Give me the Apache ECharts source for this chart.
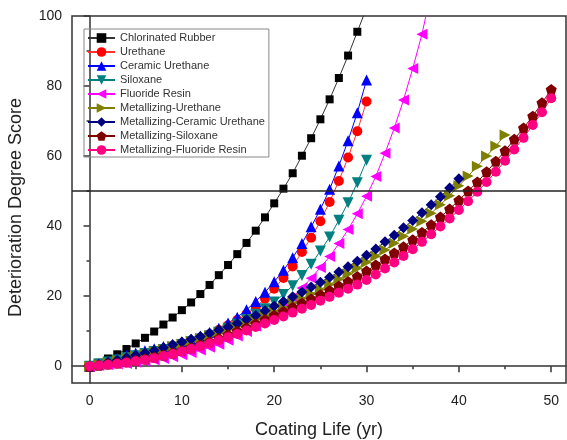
<!DOCTYPE html>
<html>
<head>
<meta charset="utf-8">
<script src="https://cdn.jsdelivr.net/npm/echarts@6/dist/echarts.min.js"></script>
<style>
  html, body { margin: 0; padding: 0; background: #fff; }
  #chart { width: 567px; height: 440px; }
</style>
</head>
<body>
<div id="chart"></div>
<script>
// values, one per year starting at year 0
var chlorinatedRubber = [0, 1.0, 2.2, 3.4, 4.9, 6.5, 8.1, 9.9, 11.9, 13.9, 16.0, 18.2, 20.6, 23.2, 26.0, 28.9, 32.0, 35.2, 38.7, 42.5, 46.5, 50.7, 55.1, 60.1, 65.1, 70.5, 76.2, 82.3, 88.7, 95.5, 102.3];
var urethane = [0, 0.6, 1.3, 1.9, 2.6, 3.2, 3.8, 4.4, 5.0, 5.7, 6.4, 7.2, 8.1, 9.1, 10.3, 11.7, 13.2, 14.9, 16.9, 19.3, 22.1, 25.2, 28.5, 32.6, 36.7, 41.4, 46.9, 52.9, 59.6, 67.1, 75.6];
var ceramicUrethane = [0, 0.7, 1.5, 2.3, 3.1, 3.8, 4.4, 5.0, 5.6, 6.2, 6.9, 7.7, 8.6, 9.6, 10.8, 12.3, 14.0, 16.1, 18.5, 21.1, 24.1, 27.4, 31.0, 35.0, 39.8, 44.8, 50.5, 57.2, 64.4, 72.4, 81.7];
var siloxane = [0, 0.6, 1.2, 1.8, 2.4, 3.0, 3.6, 4.2, 4.8, 5.5, 6.2, 7.0, 7.8, 8.7, 9.7, 10.8, 12.0, 13.3, 14.8, 16.4, 18.3, 20.5, 23.0, 25.9, 29.1, 32.9, 36.9, 41.7, 46.7, 52.4, 58.8];
var fluorideResin = [0, 0.2, 0.4, 0.6, 0.8, 1.1, 1.4, 1.8, 2.2, 2.7, 3.3, 3.9, 4.6, 5.4, 6.3, 7.4, 8.6, 9.9, 11.4, 13.1, 15.0, 17.2, 19.6, 22.3, 25.1, 28.2, 31.3, 35.0, 39.0, 43.5, 48.5, 54.2, 60.8, 68.0, 76.0, 85.0, 94.8, 107];
var metUrethane = [0, 0.5, 1.0, 1.6, 2.2, 2.8, 3.4, 4.1, 4.8, 5.6, 6.3, 7.1, 7.9, 8.7, 9.6, 10.5, 11.4, 12.4, 13.4, 14.5, 15.6, 16.8, 18.0, 19.3, 20.6, 21.9, 23.3, 24.8, 26.4, 28.0, 29.7, 31.4, 33.2, 35.1, 37.1, 39.2, 41.4, 43.7, 46.1, 48.7, 51.5, 54.3, 57.1, 60.0, 62.9, 66.0];
var metCeramicUrethane = [0, 0.5, 1.1, 1.7, 2.4, 3.1, 3.8, 4.5, 5.3, 6.1, 6.9, 7.7, 8.5, 9.4, 10.3, 11.2, 12.2, 13.3, 14.5, 15.8, 17.2, 18.5, 19.8, 21.2, 22.6, 24.0, 25.4, 26.9, 28.4, 30.0, 31.7, 33.5, 35.5, 37.4, 39.5, 41.6, 43.8, 46.1, 48.4, 50.9, 53.5];
var metSiloxane = [0, 0.3, 0.6, 0.9, 1.3, 1.7, 2.1, 2.6, 3.2, 3.8, 4.5, 5.3, 6.1, 7.0, 8.0, 9.0, 10.0, 11.0, 12.1, 13.3, 14.5, 15.6, 16.8, 18.0, 19.2, 20.4, 21.6, 22.9, 24.2, 25.6, 27.2, 28.9, 30.6, 32.3, 34.1, 36.1, 38.2, 40.4, 42.6, 44.9, 47.4, 50.0, 52.6, 55.5, 58.5, 61.5, 64.8, 68.0, 71.4, 75.2, 79.0];
var metFluorideResin = [0, 0.2, 0.4, 0.7, 1.0, 1.4, 1.8, 2.3, 2.9, 3.5, 4.2, 4.9, 5.7, 6.5, 7.4, 8.3, 9.2, 10.2, 11.2, 12.2, 13.2, 14.2, 15.3, 16.4, 17.5, 18.7, 19.8, 21.0, 22.1, 23.3, 24.6, 26.2, 27.9, 29.6, 31.5, 33.4, 35.5, 37.7, 39.9, 42.2, 44.6, 47.1, 49.8, 52.6, 55.5, 58.7, 61.9, 65.2, 68.9, 72.5, 76.5];

var xMajor = [0, 10, 20, 30, 40, 50];
var xMinor = [5, 15, 25, 35, 45];
var yMajor = [0, 20, 40, 60, 80, 100];
var yMinor = [10, 30, 50, 70, 90];
var threshold = 50;

var pentagon = 'path://M0,-10 L9.51,-3.09 L5.88,8.09 L-5.88,8.09 L-9.51,-3.09 Z';

var seriesDefs = [
  { name: 'Chlorinated Rubber', values: chlorinatedRubber, color: '#000000', line: '#333333', symbol: 'rect', size: 8, rotate: 0 },
  { name: 'Urethane', values: urethane, color: '#ff0000', line: '#ff3030', symbol: 'circle', size: 10, rotate: 0 },
  { name: 'Ceramic Urethane', values: ceramicUrethane, color: '#0000ff', line: '#0000ff', symbol: 'triangle', size: 11, rotate: 0 },
  { name: 'Siloxane', values: siloxane, color: '#008080', line: '#008080', symbol: 'triangle', size: 11, rotate: 180 },
  { name: 'Fluoride Resin', values: fluorideResin, color: '#ff00ff', line: '#ff00ff', symbol: 'triangle', size: 11, rotate: 90 },
  { name: 'Metallizing-Urethane', values: metUrethane, color: '#808000', line: '#808000', symbol: 'triangle', size: 11, rotate: -90 },
  { name: 'Metallizing-Ceramic Urethane', values: metCeramicUrethane, color: '#000080', line: '#000080', symbol: 'diamond', size: 11, rotate: 0 },
  { name: 'Metallizing-Siloxane', values: metSiloxane, color: '#800000', line: '#800000', symbol: pentagon, size: 11, rotate: 0 },
  { name: 'Metallizing-Fluoride Resin', values: metFluorideResin, color: '#ff0080', line: '#ff0080', symbol: 'circle', size: 10, rotate: 0 }
];

var series = seriesDefs.map(function (s, i) {
  var pts = [];
  for (var t = 0; t < s.values.length; t++) pts.push([t, s.values[t]]);
  var item = {
    name: s.name,
    type: 'line',
    data: pts,
    xAxisIndex: 0,
    yAxisIndex: 0,
    symbol: s.symbol,
    symbolSize: s.size,
    symbolRotate: s.rotate,
    showAllSymbol: true,
    clip: true,
    lineStyle: { color: s.line, width: 1 },
    itemStyle: { color: s.color },
    emphasis: { disabled: true }
  };
  if (i === 0) {
    item.markLine = {
      silent: true,
      symbol: ['none', 'none'],
      label: { show: false },
      lineStyle: { color: '#222', width: 1.5, type: 'solid' },
      data: [{ yAxis: threshold }]
    };
  }
  return item;
});

var font = 'Liberation Sans, Arial, sans-serif';
var xMin = -1.9, xMax = 51.6, yMin = -4.8, yMax = 100;

var myChart = echarts.init(document.getElementById('chart'));
var option = {
  animation: false,
  backgroundColor: '#fff',
  grid: {
    left: 72, right: 1, top: 16, bottom: 57,
    outerBoundsMode: 'none',
    containLabel: false,
    show: true, borderColor: '#333', borderWidth: 1.5
  },
  legend: {
    orient: 'vertical',
    left: 84, top: 29,
    padding: [3, 4, 1, 3],
    itemGap: 2,
    itemWidth: 27,
    itemHeight: 12,
    borderColor: '#888',
    borderWidth: 1,
    textStyle: { fontFamily: font, fontSize: 11, color: '#333', lineHeight: 12 },
    data: seriesDefs.map(function (s) { return s.name; })
  },
  xAxis: [{
    type: 'value', min: xMin, max: xMax,
    name: 'Coating Life (yr)', nameLocation: 'middle', nameGap: 38,
    nameTextStyle: { fontFamily: font, fontSize: 18, color: '#222' },
    axisLine: { show: true, lineStyle: { color: '#333', width: 1.5 } },
    axisTick: { show: true, length: 6, customValues: xMajor, lineStyle: { color: '#333', width: 1.5 } },
    axisLabel: { customValues: xMajor, fontFamily: font, fontSize: 14, color: '#222', margin: 11 },
    splitLine: { show: false }
  }, {
    type: 'value', min: xMin, max: xMax, position: 'bottom',
    axisLine: { show: false },
    axisTick: { show: true, length: 3, customValues: xMinor, lineStyle: { color: '#333', width: 1.5 } },
    axisLabel: { show: false },
    splitLine: { show: false }
  }],
  yAxis: [{
    type: 'value', min: yMin, max: yMax, position: 'left',
    name: 'Deterioration Degree Score', nameLocation: 'middle', nameGap: 47,
    nameTextStyle: { fontFamily: font, fontSize: 18, color: '#222', padding: [0, 16, 0, 0] },
    axisLine: { show: true, lineStyle: { color: '#333', width: 1.5 } },
    axisTick: { show: true, length: 6, customValues: yMajor, lineStyle: { color: '#333', width: 1.5 } },
    axisLabel: { customValues: yMajor, fontFamily: font, fontSize: 14, color: '#222', margin: 10 },
    splitLine: { show: false }
  }, {
    type: 'value', min: yMin, max: yMax, position: 'left',
    axisLine: { show: false },
    axisTick: { show: true, length: 3, customValues: yMinor, lineStyle: { color: '#333', width: 1.5 } },
    axisLabel: { show: false },
    splitLine: { show: false }
  }],
  series: series
};
myChart.setOption(option);
</script>
</body>
</html>
